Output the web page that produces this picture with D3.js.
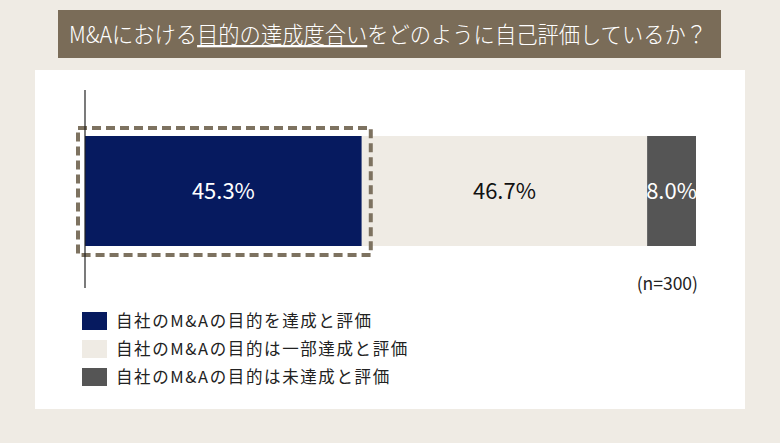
<!DOCTYPE html>
<html>
<head>
<meta charset="utf-8">
<script src="https://cdn.jsdelivr.net/npm/d3@7"></script>
<style>
  body { margin: 0; background: #efebe4; }
  text { font-family: "Noto Sans CJK JP", "Noto Sans", sans-serif; }
</style>
</head>
<body>
<script>
var categories = ['自社のM&Aの目的を達成と評価', '自社のM&Aの目的は一部達成と評価', '自社のM&Aの目的は未達成と評価'];
var values = [45.3, 46.7, 8.0];
var colors = ['#061a5f', '#efebe4', '#555555'];
var labelColors = ['#ffffff', '#111111', '#ffffff'];
var titleBefore = 'M&Aにおける', titleUnder = '目的の達成度合い', titleAfter = 'をどのように自己評価しているか？';
var note = '(n=300)';

var W = 780, H = 443;
var svg = d3.select('body').append('svg')
	.attr('width', W).attr('height', H);

svg.append('rect').attr('width', W).attr('height', H).attr('fill', '#efebe4');

// title band
svg.append('rect')
	.attr('x', 58).attr('y', 10).attr('width', 663).attr('height', 48)
	.attr('fill', '#7a6c58');

var title = svg.append('text')
	.attr('x', 69).attr('y', 43)
	.attr('fill', '#ffffff')
	.attr('font-size', 23)
	.attr('font-weight', 300)
	.attr('textLength', 638)
	.attr('lengthAdjust', 'spacingAndGlyphs');
title.append('tspan').text(titleBefore);
title.append('tspan').attr('text-decoration', 'underline').text(titleUnder);
title.append('tspan').text(titleAfter);

// white panel
svg.append('rect')
	.attr('x', 35).attr('y', 70).attr('width', 710).attr('height', 339)
	.attr('fill', '#ffffff');

var x = d3.scaleLinear().domain([0, 100]).range([85, 696]);
var barY = 136, barH = 110;

var stack = [];
var acc = 0;
values.forEach(function (v, i) {
	stack.push({ i: i, x0: acc, x1: acc + v, v: v });
	acc += v;
});

svg.selectAll('.bar')
	.data(stack).enter().append('rect')
		.attr('class', 'bar')
		.attr('x', function (d) { return x(d.x0); })
		.attr('width', function (d) { return x(d.x1) - x(d.x0); })
		.attr('y', barY)
		.attr('height', barH)
		.attr('fill', function (d) { return colors[d.i]; });

svg.selectAll('.lbl')
	.data(stack).enter().append('text')
		.attr('class', 'lbl')
		.attr('x', function (d) { return (x(d.x0) + x(d.x1)) / 2; })
		.attr('y', barY + barH / 2 + 8)
		.attr('text-anchor', 'middle')
		.attr('font-size', 22)
		.attr('fill', function (d) { return labelColors[d.i]; })
		.text(function (d) { return d.v.toFixed(1) + '%'; });

// highlight box around first segment
svg.append('rect')
	.attr('x', x(0) - 7).attr('y', barY - 8)
	.attr('width', x(values[0]) - x(0) + 16).attr('height', barH + 17)
	.attr('fill', 'none')
	.attr('stroke', '#7d7260')
	.attr('stroke-width', 4)
	.attr('stroke-dasharray', '9,5');

// axis line
svg.append('line')
	.attr('x1', x(0)).attr('x2', x(0))
	.attr('y1', 90).attr('y2', 288)
	.attr('stroke', '#222').attr('stroke-width', 1.2);

svg.append('text')
	.attr('x', 698).attr('y', 290)
	.attr('text-anchor', 'end')
	.attr('font-size', 17.5)
	.attr('fill', '#222')
	.text(note);

// legend
var leg = svg.selectAll('.leg')
	.data(categories).enter().append('g')
		.attr('class', 'leg')
		.attr('transform', function (d, i) { return 'translate(82,' + (312 + i * 28) + ')'; });
leg.append('rect')
	.attr('width', 25).attr('height', 18)
	.attr('fill', function (d, i) { return colors[i]; });
leg.append('text')
	.attr('x', 34).attr('y', 15)
	.attr('font-size', 16.5)
	.attr('letter-spacing', 1.6)
	.attr('fill', '#222')
	.text(function (d) { return d; });
</script>
</body>
</html>
